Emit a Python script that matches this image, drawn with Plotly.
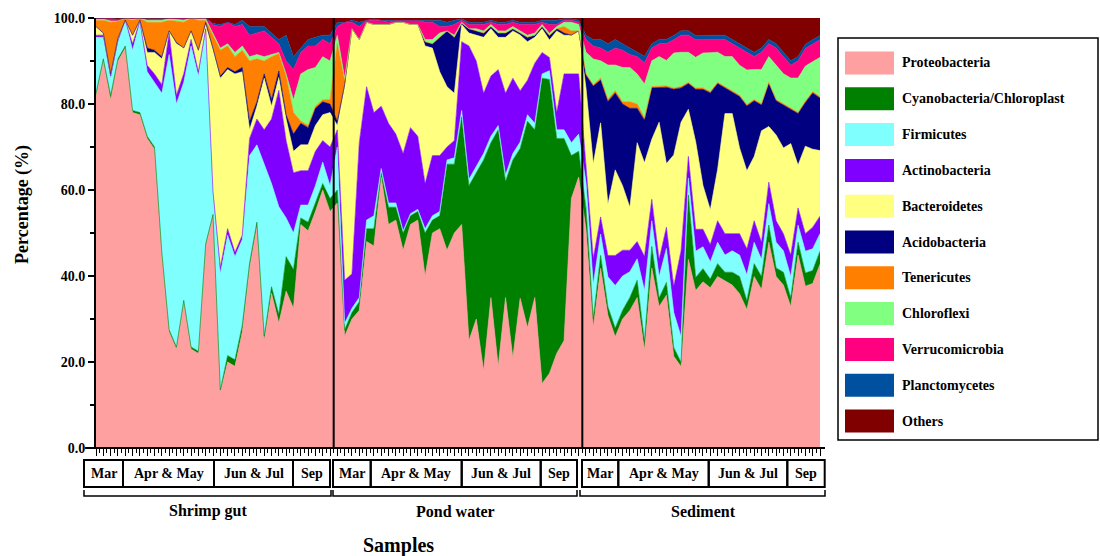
import plotly.graph_objects as go

# ---------------- data ----------------
phyla = ["Proteobacteria", "Cyanobacteria/Chloroplast", "Firmicutes", "Actinobacteria",
         "Bacteroidetes", "Acidobacteria", "Tenericutes", "Chloroflexi",
         "Verrucomicrobia", "Planctomycetes", "Others"]
colors = ["#FFA0A0", "#008000", "#80FFFF", "#8000FF", "#FFFF80", "#000080",
          "#FF8000", "#80FF80", "#FF0080", "#0050A0", "#800000"]

group_names = ["Shrimp gut", "Pond water", "Sediment"]
month_labels = ["Mar", "Apr & May", "Jun & Jul", "Sep"]
y_tick_values = [0, 20, 40, 60, 80, 100]
y_tick_labels = ["0.0", "20.0", "40.0", "60.0", "80.0", "100.0"]

# each row: one sample, values in the order of `phyla` (%)
shrimp_gut = [
    [82, .5, 13, .5, 2, 0, 1.5, .2, .2, 0, .1],
    [90, .5, 5, .5, .5, 0, 3, .2, .3, 0, 0],
    [81, 1, 4, .5, .5, 0, 12, .3, .7, 0, 0],
    [90, .5, 4, .3, .5, 0, 4, 0, .4, 0, .3],
    [93, .5, 6, 0, 0, 0, .5, 0, 0, 0, 0],
    [78, .5, 14, 1.5, 2, 0, 3.5, .2, .3, 0, 0],
    [77.5, .5, 21, .3, .2, 0, .5, 0, 0, 0, 0],
    [72, .5, 15, 1.5, 3, 1, 6, .5, .3, 0, .2],
    [69.5, .5, 15, 2, 5, .5, 6.5, .5, .3, 0, .2],
    [45, .5, 37, 2, 6, .5, 8, .5, .3, 0, .2],
    [27, .5, 64, 5, .5, 0, 2.5, .3, .2, 0, 0],
    [23, .5, 56.5, 2, 12, .3, 5, .4, .3, 0, 0],
    [34, .5, 51, 2, 6, 0, 6, .5, .5, 0, 0],
    [23, .5, 70, 1.5, 2, 0, 3, 0, 0, 0, 0],
    [22, .5, 64, 1, 5, 0, 7, .3, .2, 0, 0],
    [47, .5, 49.5, .5, 1, .5, .5, .3, .2, 0, 0],
    [54, .3, 5, .3, 33, .3, 3, .5, 2, .3, 1.3],
    [13, .5, 27, 1.5, 44, .5, 6, .5, 5, .5, 1.5],
    [20, 1.5, 28, 1.5, 37, .5, 5, .5, 5, 0, 1],
    [19, 1.5, 24, 1, 41.5, .5, 3.5, 1, 6, .5, 1.5],
    [27, 1.5, 20, 1, 38, 1, 4, 1, 5, 1, .5],
    [42, 1, 25, 4, 2, 2, 14, 1, 5, 2, 2],
    [51.5, 1, 18, 6, 3, 1, 10, 1, 5, 1.5, 2],
    [25, 1, 40, 8, 12, 1, 3, 1, 6, 1, 2],
    [36, 1.5, 24, 15, 3, 1.5, 10, .5, 4, 1, 3.5],
    [29, 2, 25, 27, 3, 1.5, 4, .3, 2, 1, 5],
    [36.5, 8, 9, 18, 5, 1, 9, .5, 3, 6, 4],
    [32.5, 9, 8.5, 14, 5, 4, 5, 3, 7, 3, 9],
    [52, 1.5, 3, 8, 6, 5, .5, 11, 5, 1, 7],
    [50.5, 2, 4, 8, 6, 4, .5, 13, 5.5, 1.5, 5],
    [55, 2, 4, 8, 6, 4, .5, 9, 5, 2, 4.5],
    [60, 1.5, 5, 5, 6, 3, .5, 10, 4, 1, 4],
    [55, 3, 3, 9, 8, 2, 1, 9, 4, 2, 4],
]

pond_water = [
    [57, 3, 10, 4, 1, 1, 18, 2, 2, 1, 1],
    [26, 1.5, 1.5, 10, 45, .5, 1, .5, 13, 0, 1],
    [30, 1.5, 1, 8, 57, 0, 0, 0, 1.5, .5, .5],
    [32, 2, 1, 36, 24, 0, 0, 0, 3, 1, 1],
    [48, 3, 2, 31, 15, 0, 0, 0, .5, 0, .5],
    [47, 4, 3, 24, 20.5, 0, 0, 0, 1, .3, .2],
    [63, 1, 1, 14.5, 19, 0, 0, 0, 1, 0, .5],
    [52, 4, 1, 18.5, 23, 0, 0, 0, .5, .5, .5],
    [53, 3, 1, 16, 26, 0, 0, 0, .5, 0, .5],
    [46, 4, .5, 18, 30.5, 0, 0, 0, .5, 0, .5],
    [52, 2, .5, 20, 24, 0, 0, 0, 1, 0, .5],
    [53, 2, .5, 17, 26, 0, 0, 0, 1, 0, .5],
    [40, 10, 1, 10.5, 32, 1, 0, .5, 4, .5, .5],
    [50, 3, 1, 14, 25, 1, 0, 1, 4, .5, .5],
    [51, 3, 1, 13, 19.5, 8, 0, 1, 1.5, 1.5, .5],
    [46, 20, 1, 3, 14, 13, 0, 0, 1, 1, 1],
    [50, 16, 1.5, 4, 11, 13, 0, .5, 2.5, 1, .5],
    [52, 25, 1.5, 16, 4, .3, 0, .2, .5, .3, .2],
    [25, 36, 1.5, 31, 3, 1, 0, 0, 1, .5, 1],
    [30, 34, 1.5, 24.5, 6, 1, 0, .5, 1, .5, 1],
    [18, 49, 1.5, 14, 13, 1, 0, .5, 1.5, .5, 1],
    [35, 36, 1.5, 14, 11, .5, 0, .5, .5, .5, .5],
    [19, 55, 1, 13, 7.5, 1, 0, .5, 1.5, .5, 1],
    [35, 27, 1.5, 19, 13, 1, 0, .5, 1.5, .5, 1],
    [21, 46, 1.5, 17.5, 11, .5, 0, .5, 1, .5, .5],
    [35, 35, 1.5, 12, 13, .5, 0, .5, 1.5, .5, 1],
    [28, 48, 1.5, 8, 9, 1, 0, .5, 2.5, .5, 1],
    [35, 39, 1.5, 14, 6, .5, 0, .5, 2, .5, 1],
    [15, 71, 1, 5, 5.5, .5, 0, .5, .5, .5, .5],
    [17, 67, 2, 3, 4, 1, 0, .5, 2, 1, .5],
    [22, 50, 2, 4, 19, .5, 0, .5, .5, 1, .5],
    [25, 47, 2, 13, 9, .5, 1.5, 1, .5, .3, .2],
    [58, 10, 3, 16, 9, 0, 1, 2, .5, .3, .2],
    [63, 6, 4, 14, 10, 0, 0, 1.5, .5, .5, .5],
]

sediment = [
    [51, 5, 6, 4, 18, 3, .3, 5, 3, 1, 4],
    [28, 2, 8, 6, 22, 18, .3, 6, 3, 1.5, 5],
    [42, 3, 5, 4, 22, 10, .5, 4, 3, 2, 5],
    [31, 2, 7, 5, 12, 24, .5, 8, 3, 2, 6],
    [26, 2, 10, 7, 20, 18, .5, 6, 4, 2, 5],
    [30, 2, 8, 6, 15, 19, .5, 8, 4, 1.5, 6],
    [32, 3, 6, 5, 10, 23, 1.5, 8, 3, 1.5, 7],
    [35, 4, 5, 4, 23, 8, 1, 7, 4, 1, 8],
    [23, 2, 12, 8, 22, 10, .5, 8, 5, 1.5, 9],
    [42, 5, 6, 5, 14, 12, .3, 6, 3, 1, 6],
    [33, 2, 5, 4, 32, 8, .3, 7, 3, 1, 5],
    [36, 3, 8, 5, 15, 18, .3, 6, 4, 1, 5],
    [21, 2, 8, 6, 30, 15, .3, 8, 3, 1, 4],
    [19, 1, 6, 20, 30, 8, .3, 8, 4, 1, 3],
    [44, 15, 4, 5, 11, 6, .3, 7, 4, 1, 3],
    [36, 3, 6, 5, 20, 12, .3, 7, 4, 1, 4],
    [38, 3, 5, 4, 10, 22, .3, 8, 3, 1, 4],
    [37, 2, 4, 4, 8, 27, .3, 9, 3, 1, 4],
    [40, 3, 5, 5, 12, 20, .3, 7, 3, 1, 4],
    [39, 2, 4, 5, 28, 6, .3, 7, 4, 1, 4],
    [38, 3, 5, 4, 28, 5, .3, 8, 3, 1, 5],
    [36, 4, 5, 5, 20, 12, .3, 7, 4, 1, 6],
    [32, 2, 6, 6, 18, 15, .3, 8, 4, 1, 7],
    [40, 3, 5, 5, 15, 13, .3, 7, 3, 1, 8],
    [37, 3, 4, 4, 26, 6, .3, 8, 4, 1, 7],
    [48, 4, 5, 5, 13, 10, .3, 6, 3, 1, 5],
    [40, 2, 6, 5, 20, 8, .3, 8, 4, 1, 6],
    [38, 3, 5, 4, 20, 10, .3, 7, 4, 1, 8],
    [33, 2, 5, 5, 26, 8, .3, 7, 3, 1, 10],
    [45, 3, 4, 4, 10, 12, .3, 8, 4, 1, 9],
    [37, 3, 5, 4, 20, 10, .3, 8, 4, 1, 6],
    [38, 3, 5, 5, 18, 13, .3, 7, 4, 1, 5],
    [42, 3, 4, 4, 15, 12, .3, 9, 4, 1, 4],
]

# ---------------- layout constants (pixels) ----------------
W, H = 1100, 556
PL, PR, PT, PB = 96, 820, 18, 448
FONT = "Liberation Serif, Times New Roman, serif"

def px(xp):
    return (xp - PL) / (PR - PL)

def py(yp):
    return (PB - yp) / (PB - PT)

samples = shrimp_gut + pond_water + sediment
n_samples = len(samples)
x_idx = list(range(n_samples))
group_sizes = [len(shrimp_gut), len(pond_water), len(sediment)]

fig = go.Figure()
for k, (name, col) in enumerate(zip(phyla, colors)):
    fig.add_trace(go.Scatter(
        x=x_idx, y=[row[k] for row in samples], name=name,
        mode="lines", stackgroup="one", groupnorm="percent",
        line=dict(color=col, width=0.6), fillcolor=col,
        showlegend=False, hoverinfo="name+y"))

shapes = []
annotations = []

# group dividers
b = 0
for gs in group_sizes[:-1]:
    b += gs
    shapes.append(dict(type="line", xref="x", yref="paper", x0=b - 0.5, x1=b - 0.5,
                       y0=0, y1=1, line=dict(color="black", width=2)))

# bottom baseline
shapes.append(dict(type="line", xref="paper", yref="paper", x0=px(85), x1=px(825),
                   y0=0, y1=0, line=dict(color="black", width=2)))

# month boxes per group (pixel edges)
month_edges = [
    [84, 123, 214, 293, 330],
    [333, 370.7, 461.7, 540.7, 577],
    [582, 618.3, 708.7, 787.3, 824.7],
]
box_top, box_bot = 460, 487
for edges in month_edges:
    for j, lab in enumerate(month_labels):
        x0, x1 = edges[j], edges[j + 1]
        shapes.append(dict(type="rect", xref="paper", yref="paper",
                           x0=px(x0), x1=px(x1), y0=py(box_bot), y1=py(box_top),
                           line=dict(color="black", width=2)))
        annotations.append(dict(xref="paper", yref="paper", x=px((x0 + x1) / 2),
                                y=py((box_top + box_bot) / 2), text="<b>%s</b>" % lab,
                                showarrow=False, xanchor="center", yanchor="middle",
                                font=dict(family=FONT, size=14, color="black")))

# brackets with group names
brackets = [(84, 331, 208), (333, 577, 455), (580, 825, 703)]
for (x0, x1, xc), gname in zip(brackets, group_names):
    shapes.append(dict(type="path", xref="paper", yref="paper",
                       path="M %f,%f L %f,%f L %f,%f L %f,%f" % (
                           px(x0), py(490), px(x0), py(496), px(x1), py(496), px(x1), py(490)),
                       line=dict(color="black", width=1.5)))
    annotations.append(dict(xref="paper", yref="paper", x=px(xc), y=py(511),
                            text="<b>%s</b>" % gname, showarrow=False,
                            xanchor="center", yanchor="middle",
                            font=dict(family=FONT, size=16, color="black")))

# axis titles
annotations.append(dict(xref="paper", yref="paper", x=px(398), y=py(545),
                        text="<b>Samples</b>", showarrow=False, xanchor="center",
                        yanchor="middle", font=dict(family=FONT, size=20, color="black")))
annotations.append(dict(xref="paper", yref="paper", x=px(22), y=py(205),
                        text="<b>Percentage (%)</b>", showarrow=False, textangle=-90,
                        xanchor="center", yanchor="middle",
                        font=dict(family=FONT, size=18, color="black")))

# legend (drawn)
shapes.append(dict(type="rect", xref="paper", yref="paper", x0=px(838), x1=px(1098),
                   y0=py(440), y1=py(38), line=dict(color="black", width=1.5),
                   fillcolor="white", layer="below"))
leg_y0, leg_dy = 63, 35.8
for k, (name, col) in enumerate(zip(phyla, colors)):
    yc = leg_y0 + k * leg_dy
    shapes.append(dict(type="rect", xref="paper", yref="paper", x0=px(845), x1=px(894),
                       y0=py(yc + 11.5), y1=py(yc - 11.5), line=dict(width=0),
                       fillcolor=col))
    annotations.append(dict(xref="paper", yref="paper", x=px(900), y=py(yc),
                            text="<b>%s</b>" % name, showarrow=False, xanchor="left",
                            yanchor="middle", font=dict(family=FONT, size=14, color="black")))

fig.update_layout(
    width=W, height=H, autosize=False,
    margin=dict(l=PL, r=W - PR, t=PT, b=H - PB, pad=0),
    paper_bgcolor="white", plot_bgcolor="white",
    showlegend=False, shapes=shapes, annotations=annotations,
    xaxis=dict(range=[0, n_samples - 1], tickvals=x_idx, showticklabels=False,
               ticks="outside", ticklen=7, tickwidth=1, tickcolor="black",
               showgrid=False, zeroline=False, showline=False,
               minor=dict(tick0=0.5, dtick=1, ticks="outside", ticklen=4,
                          tickwidth=1, tickcolor="black", showgrid=False)),
    yaxis=dict(range=[0, 100], tickvals=y_tick_values,
               ticktext=["<b>%s</b>" % t for t in y_tick_labels],
               ticks="outside", ticklen=6, tickwidth=1.5, tickcolor="black",
               showline=True, linewidth=2, linecolor="black",
               showgrid=False, zeroline=False,
               tickfont=dict(family=FONT, size=14, color="black"),
               minor=dict(dtick=10, ticks="outside", ticklen=4, tickwidth=1.5,
                          tickcolor="black", showgrid=False)),
)

fig.write_html("out.html", config={"displayModeBar": False},
               post_script="document.body.style.margin='0px';"
                           "document.body.style.overflow='hidden';")
